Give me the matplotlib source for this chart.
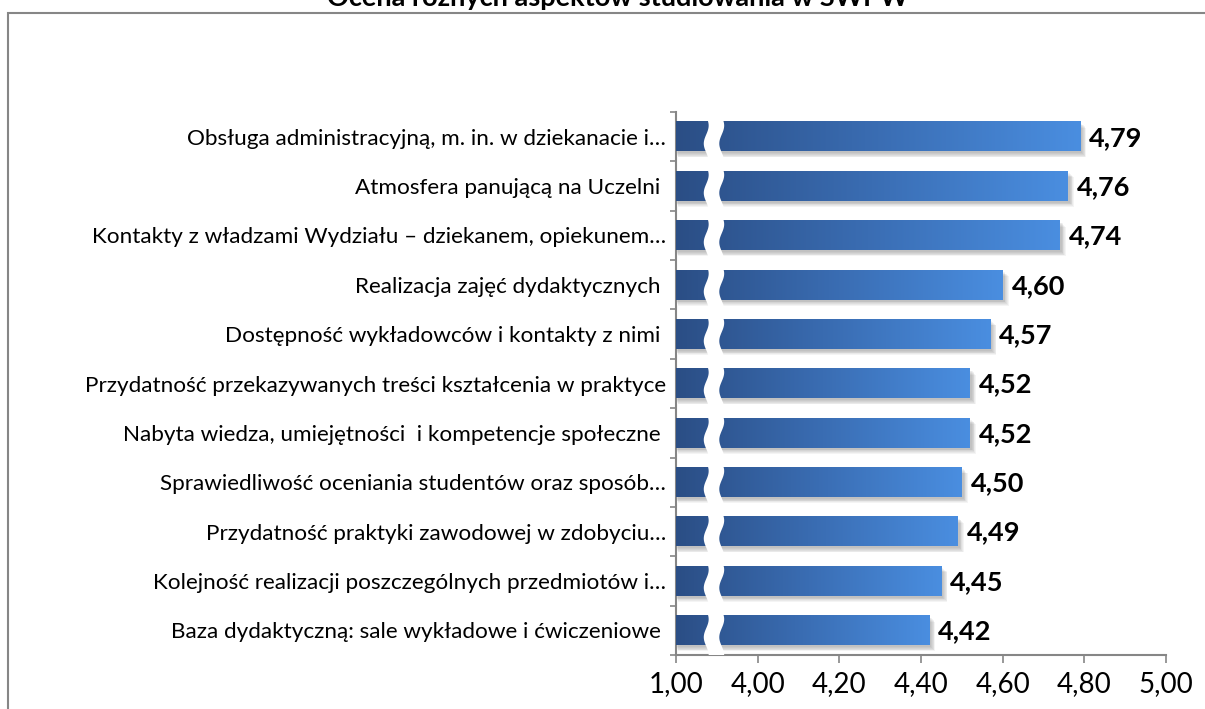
import numpy as np
import matplotlib.pyplot as plt
from matplotlib.patches import Rectangle, Polygon
from matplotlib.colors import LinearSegmentedColormap

# data
labels = [
    "Obsługa administracyjną, m. in. w dziekanacie i…",
    "Atmosfera panującą na Uczelni ",
    "Kontakty z władzami Wydziału – dziekanem, opiekunem…",
    "Realizacja zajęć dydaktycznych ",
    "Dostępność wykładowców i kontakty z nimi ",
    "Przydatność przekazywanych treści kształcenia w praktyce",
    "Nabyta wiedza, umiejętności  i kompetencje społeczne ",
    "Sprawiedliwość oceniania studentów oraz sposób…",
    "Przydatność praktyki zawodowej w zdobyciu…",
    "Kolejność realizacji poszczególnych przedmiotów i…",
    "Baza dydaktyczną: sale wykładowe i ćwiczeniowe ",
]
values = [4.79, 4.76, 4.74, 4.60, 4.57, 4.52, 4.52, 4.50, 4.49, 4.45, 4.42]
tick_values = [3.8, 4.0, 4.2, 4.4, 4.6, 4.8, 5.0]
tick_labels = ["1,00", "4,00", "4,20", "4,40", "4,60", "4,80", "5,00"]
title = "Ocena różnych aspektów studiowania w SWPW"

plt.rcParams['font.family'] = ['Lato', 'DejaVu Sans']

x_min, x_max = 3.8, 5.0
bar_h = 0.6
grey = "#868686"

fig = plt.figure(figsize=(12.05, 7.09), dpi=100)
ax = fig.add_axes([676 / 1205, 1 - 655 / 709, 490 / 1205, 543 / 709])

cmap = LinearSegmentedColormap.from_list("bar", ["#2B4E85", "#3A6DB3", "#4A8EE0"])
grad = np.linspace(0, 1, 256).reshape(1, -1)

ypos = np.arange(len(values))
px_x = 408.5  # pixels per unit on x
px_y = 49.4   # pixels per category

for y, v in zip(ypos, values):
    # soft shadow
    for k in range(6):
        off_x = (2 + k * 0.8) / px_x
        off_y = (2 + k * 0.8) / px_y
        ax.add_patch(Rectangle((x_min + off_x * 0.3, y - bar_h / 2 + off_y),
                               v - x_min + off_x * 0.7, bar_h,
                               facecolor="black", alpha=0.045, lw=0, zorder=2))
    ax.imshow(grad, extent=[x_min, v, y + bar_h / 2, y - bar_h / 2],
              aspect="auto", cmap=cmap, zorder=3, interpolation="bilinear")
    # broken axis gap
    t = np.linspace(0, 1, 40)
    top = y - bar_h / 2 - 0.05
    bot = y + bar_h / 2 + 0.3
    yy = top + (bot - top) * t
    wave = 0.006 * np.sin(2 * np.pi * t * 1.3 + 0.5)
    left = 3.874 + wave
    right = 3.912 + wave
    pts = np.column_stack([np.r_[left, right[::-1]], np.r_[yy, yy[::-1]]])
    ax.add_patch(Polygon(pts, closed=True, facecolor="white", edgecolor="none", zorder=4))
    ax.text(v + 9 / px_x, y + 0.02, f"{v:.2f}".replace(".", ","), ha="left", va="center",
            fontsize=19.5, fontweight="bold", color="black", zorder=5)

ax.set_xlim(x_min, x_max)
ax.set_ylim(len(values) - 0.5, -0.5)

ax.set_xticks(tick_values)
ax.set_xticklabels(tick_labels, fontsize=20)
ax.tick_params(axis="x", direction="out", length=5.5, width=1.2, color=grey, pad=6)

ax.set_yticks(ypos)
ax.set_yticklabels(labels, fontsize=16.2)
ax.tick_params(axis="y", which="major", length=0, pad=7)
ax.set_yticks(np.arange(len(values) + 1) - 0.5, minor=True)
ax.tick_params(axis="y", which="minor", direction="out", length=4, width=1.2, color=grey)

for s in ["top", "right"]:
    ax.spines[s].set_visible(False)
for s in ["left", "bottom"]:
    ax.spines[s].set_color(grey)
    ax.spines[s].set_linewidth(1.5)

# outer chart frame
fig.patches.append(Rectangle((8 / 1205, -0.05), 1.2, (709 - 13) / 709 + 0.05,
                             transform=fig.transFigure, fill=False,
                             edgecolor=grey, lw=1.5))
# title sits partly above the top edge, as in the source image
fig.text(618 / 1205, 1 - 6 / 709, title, ha="center", va="baseline",
         fontsize=19.5, fontweight="bold")

fig.savefig("out.png", dpi=100)
